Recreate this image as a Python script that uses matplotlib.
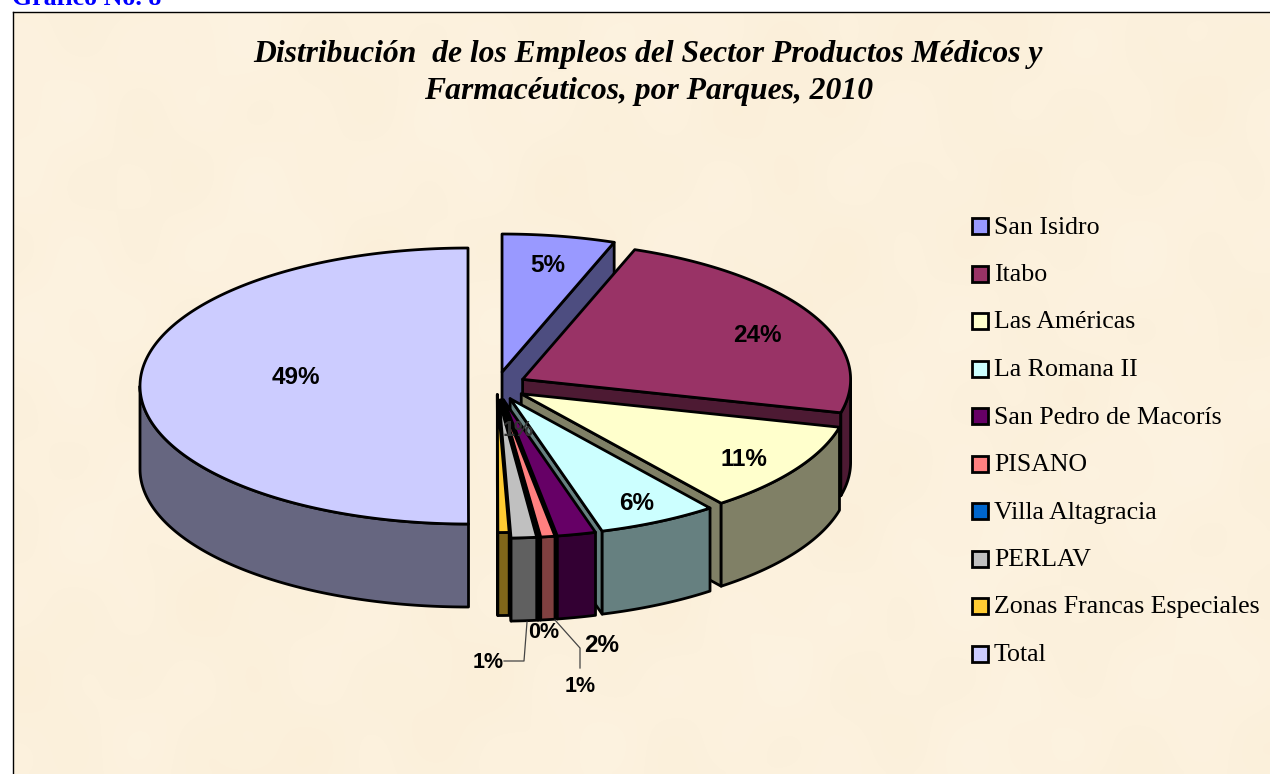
import numpy as np
import matplotlib
matplotlib.use('Agg')
import matplotlib.pyplot as plt
from matplotlib.patches import Polygon, Rectangle

# data (shares in %, clockwise from 12 o'clock)
parques = ['San Isidro', 'Itabo', 'Las Américas', 'La Romana II', 'San Pedro de Macorís',
           'PISANO', 'Villa Altagracia', 'PERLAV', 'Zonas Francas Especiales', 'Total']
shares = [5.55, 23.33, 10.67, 5.9, 1.9, 0.7, 0.1, 1.25, 0.55, 50.0]
labels = ['5%', '24%', '11%', '6%', '2%', '1%', '0%', '1%', '1%', '49%']
colores = ['#9999FF', '#993366', '#FFFFCC', '#CCFFFF', '#660066',
           '#FF8080', '#0066CC', '#C0C0C0', '#FFCC33', '#CCCCFF']
explode = [1, 1, 1, 1, 1, 1, 1, 1, 0.6, 1]

W, H = 1270, 774

# pie geometry in pixels
cx, cy = 497, 386
rx, ry = 328, 138
ex, ey = 29, 14.2
depth = 83
LW = 2.0


def point(ang):
    a = np.radians(ang)
    return rx * np.sin(a), -ry * np.cos(a)


def shade(col):
    rgb = np.array(matplotlib.colors.to_rgb(col))
    return tuple(rgb * 0.5)


fig = plt.figure(figsize=(W / 100, H / 100), dpi=100, facecolor='white')
ax = fig.add_axes((0, 0, 1, 1))
ax.set_xlim(0, W)
ax.set_ylim(H, 0)
ax.axis('off')

# parchment background, soft mottling from a few sine waves
yy, xx = np.mgrid[0:H:4, 0:W:4]
mott = (np.sin(xx / 47.0 + yy / 90.0) * np.sin(yy / 61.0 - xx / 130.0)
        + 0.6 * np.sin(xx / 19.0 + 1.3) * np.sin(yy / 23.0 + 0.4)
        + 0.5 * np.sin((xx + yy) / 210.0))
base = np.array([252, 241, 221]) / 255
tex = base[None, None, :] + mott[:, :, None] * np.array([0.002, 0.004, 0.008])
ax.imshow(np.clip(tex, 0, 1), extent=(13, W, H, 12), aspect='auto', zorder=0, interpolation='bilinear')
ax.set_xlim(0, W)
ax.set_ylim(H, 0)
ax.plot([13, 13], [H, 12], color='black', lw=1.0, zorder=1)
ax.plot([13, W], [12, 12], color='black', lw=1.0, zorder=1)

ax.text(12, 5, 'Gráfico No. 8', color='#0000FF', fontsize=18.6, fontweight='bold',
        family='Liberation Serif', va='baseline', ha='left')

ax.text(648, 62, 'Distribución  de los Empleos del Sector Productos Médicos y',
        family='Liberation Serif', fontsize=22.8, style='italic', fontweight='bold',
        ha='center', va='baseline')
ax.text(649, 99, 'Farmacéuticos, por Parques, 2010',
        family='Liberation Serif', fontsize=22.8, style='italic', fontweight='bold',
        ha='center', va='baseline')

edges = np.cumsum([0] + shares) * 360 / sum(shares)
slices = []
for i in range(len(shares)):
    a0, a1 = edges[i], edges[i + 1]
    mid = (a0 + a1) / 2
    ox = cx + explode[i] * ex * np.sin(np.radians(mid))
    oy = cy - explode[i] * ey * np.cos(np.radians(mid))
    slices.append((a0, a1, ox, oy))

# painter order: Total first, then clockwise from the top
draw_order = [9, 0, 1, 2, 3, 4, 5, 6, 7, 8]
z = 2
for i in draw_order:
    a0, a1, ox, oy = slices[i]
    col = colores[i]
    side = shade(col)
    angs = np.linspace(a0, a1, max(int(a1 - a0) * 2, 3))
    xs, ys = point(angs)
    xs, ys = xs + ox, ys + oy

    # radial wall at the clockwise end, the thin slices near 180 only show black there
    if a1 < 180:
        wall = [(ox, oy), (xs[-1], ys[-1]), (xs[-1], ys[-1] + depth), (ox, oy + depth)]
        wall_fc = side if a1 < 165 else 'black'
        ax.add_patch(Polygon(wall, closed=True, fc=wall_fc, ec='black', lw=LW, joinstyle='round', zorder=z))

    # outer rim, only the front half shows
    if a0 < 270 and a1 > 90:
        f0, f1 = max(a0, 90), min(a1, 270)
        fa = np.linspace(f0, f1, max(int(f1 - f0) * 2, 3))
        fx, fy = point(fa)
        fx, fy = fx + ox, fy + oy
        rim = list(zip(fx, fy)) + list(zip(fx[::-1], fy[::-1] + depth))
        ax.add_patch(Polygon(rim, closed=True, fc=side, ec='black', lw=LW, joinstyle='round', zorder=z))

    # top face
    top = [(ox, oy)] + list(zip(xs, ys))
    ax.add_patch(Polygon(top, closed=True, fc=col, ec='black', lw=LW, joinstyle='round', zorder=z))
    z += 1

# percentage labels
label_pos = {0: (548, 266), 1: (757, 336), 2: (744, 459), 3: (637, 503), 4: (602, 645),
             5: (580, 686), 6: (544, 632), 7: (488, 662), 8: (518, 431), 9: (296, 377)}
for i, s in enumerate(labels):
    big = i in (0, 1, 2, 3, 4, 9)
    ax.text(*label_pos[i], s, family='Liberation Sans', fontweight='bold',
            fontsize=17.5 if big else 15.5, ha='center', va='center', zorder=30,
            color='black' if i != 8 else '#333333')

# leader lines
ax.plot([527, 524, 504], [622, 661, 661], color='#444444', lw=0.9, zorder=29)
ax.plot([555, 580, 580], [620, 648, 668], color='#444444', lw=0.9, zorder=29)

# legend
for i, name in enumerate(parques):
    y = 226 + i * 47.5
    ax.add_patch(Rectangle((972, y - 8), 16, 16, fc=colores[i], ec='black', lw=LW, zorder=5))
    ax.text(994, y + 1.5, name, family='Liberation Serif', fontsize=18.65, ha='left', va='center', zorder=5)

fig.savefig('out.png', dpi=100, facecolor='white')
